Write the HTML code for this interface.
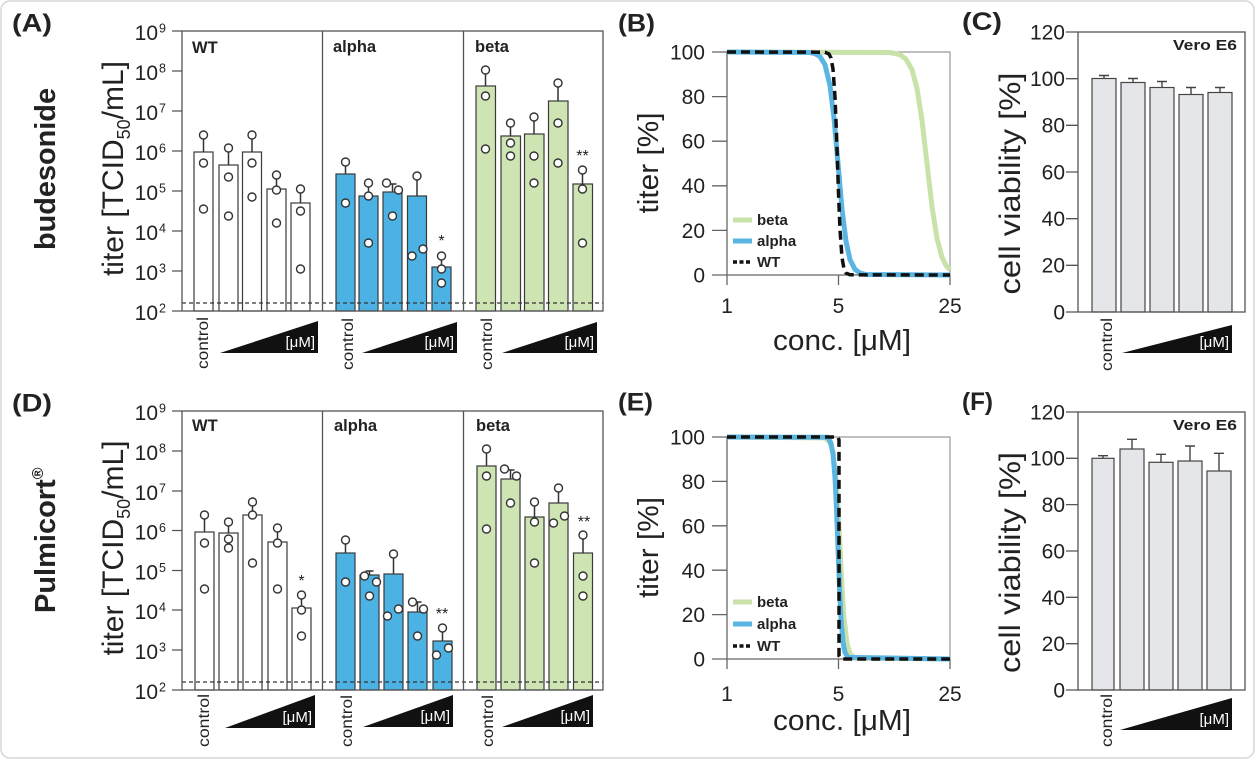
<!DOCTYPE html>
<html><head><meta charset="utf-8">
<style>
html,body{margin:0;padding:0;background:#fff;}
svg{display:block;}
text{font-family:"Liberation Sans",Arial,sans-serif;fill:#222;}
.b{font-weight:bold;}
</style></head><body>
<svg width="1256" height="760" viewBox="0 0 1256 760" xmlns="http://www.w3.org/2000/svg">
<rect x="1" y="1" width="1253" height="757" rx="9" fill="#fff" stroke="#d6d6d6" stroke-width="1.5"/>

<!-- ===== Panel labels ===== -->
<text class="b" x="12" y="31.5" font-size="25" textLength="40" lengthAdjust="spacingAndGlyphs">(A)</text>
<text class="b" x="618" y="31.5" font-size="25" textLength="37" lengthAdjust="spacingAndGlyphs">(B)</text>
<text class="b" x="962" y="30" font-size="25" textLength="40" lengthAdjust="spacingAndGlyphs">(C)</text>
<text class="b" x="12" y="411.5" font-size="25" textLength="40" lengthAdjust="spacingAndGlyphs">(D)</text>
<text class="b" x="618" y="410.5" font-size="25" textLength="35" lengthAdjust="spacingAndGlyphs">(E)</text>
<text class="b" x="962" y="410" font-size="25" textLength="31" lengthAdjust="spacingAndGlyphs">(F)</text>

<!-- Row labels -->
<text class="b" transform="translate(55,250) rotate(-90)" font-size="29" textLength="162" lengthAdjust="spacingAndGlyphs">budesonide</text>
<text class="b" transform="translate(55,613) rotate(-90)" font-size="29">Pulmicort<tspan font-size="16" dy="-12">®</tspan></text>

<!-- ===================== PANEL A ===================== -->
<text transform="translate(123,168.5) rotate(-90)" font-size="30" text-anchor="middle">titer [TCID<tspan font-size="18" dy="7">50</tspan><tspan dy="-7">/mL]</tspan></text>
<g font-size="21" text-anchor="end">
<text x="158" y="40">10</text><text x="158" y="80">10</text><text x="158" y="120">10</text><text x="158" y="160">10</text>
<text x="158" y="200">10</text><text x="158" y="240">10</text><text x="158" y="280">10</text><text x="158" y="320">10</text>
</g>
<g font-size="12.5">
<text x="159" y="32.5">9</text><text x="159" y="72.5">8</text><text x="159" y="112.5">7</text><text x="159" y="152.5">6</text>
<text x="159" y="192.5">5</text><text x="159" y="232.5">4</text><text x="159" y="272.5">3</text><text x="159" y="312.5">2</text>
</g>

<!-- bars A -->
<g stroke="#3a3a3a" stroke-width="1.2">
<g fill="#fff">
<rect x="194" y="152" width="19" height="159"/><rect x="219" y="165" width="19" height="146"/>
<rect x="242.5" y="152" width="19" height="159"/><rect x="267" y="189" width="19" height="122"/>
<rect x="291" y="203" width="19" height="108"/>
</g>
<g fill="#4cb2e4">
<rect x="336" y="174" width="19" height="137"/><rect x="359" y="196" width="19" height="115"/>
<rect x="383" y="192" width="19" height="119"/><rect x="407.5" y="196" width="19" height="115"/>
<rect x="432" y="267" width="19" height="44"/>
</g>
<g fill="#cfe4b3">
<rect x="476" y="86" width="19.5" height="225"/><rect x="501" y="136" width="19.5" height="175"/>
<rect x="524.5" y="134" width="19.5" height="177"/><rect x="548.5" y="101" width="19.5" height="210"/>
<rect x="573" y="184" width="19.5" height="127"/>
</g>
</g>
<!-- error bars A -->
<path fill="none" stroke="#333" stroke-width="1.5" d="
M203.5,152V135M199.5,135H207.5
M228.5,165V148M224.5,148H232.5
M252,152V135M248,135H256
M276.5,189V175M272.5,175H280.5
M300.5,203V189M296.5,189H304.5
M345.5,174V162M341.5,162H349.5
M368.5,196V183M364.5,183H372.5
M392.5,192V184M388.5,184H396.5
M417,196V176M413,176H421
M441.5,267V256M437.5,256H445.5
M485.5,86V70M481.5,70H489.5
M510.5,136V123M506.5,123H514.5
M534,134V117M530,117H538
M558,101V83M554,83H562
M582.5,184V170M578.5,170H586.5"/>
<g fill="#fff" stroke="#333" stroke-width="1.4">
<circle cx="203.5" cy="135" r="4"/><circle cx="203.5" cy="163" r="4"/><circle cx="203.5" cy="209" r="4"/>
<circle cx="228.5" cy="148" r="4"/><circle cx="228.5" cy="177" r="4"/><circle cx="228.5" cy="216" r="4"/>
<circle cx="252" cy="135" r="4"/><circle cx="252" cy="163" r="4"/><circle cx="252" cy="197" r="4"/>
<circle cx="276.5" cy="175" r="4"/><circle cx="276.5" cy="190" r="4"/><circle cx="276.5" cy="223" r="4"/>
<circle cx="300.5" cy="189" r="4"/><circle cx="300.5" cy="211" r="4"/><circle cx="300.5" cy="269" r="4"/>
<circle cx="345.5" cy="162" r="4"/><circle cx="345.5" cy="203" r="4"/>
<circle cx="368.5" cy="183" r="4"/><circle cx="368.5" cy="196" r="4"/><circle cx="368.5" cy="243" r="4"/>
<circle cx="386.5" cy="183" r="4"/><circle cx="398.5" cy="190" r="4"/><circle cx="392.5" cy="216" r="4"/>
<circle cx="417" cy="176" r="4"/><circle cx="412" cy="256" r="4"/><circle cx="423" cy="249" r="4"/>
<circle cx="441.5" cy="256" r="4"/><circle cx="441.5" cy="269" r="4"/><circle cx="441.5" cy="283" r="4"/>
<circle cx="485.5" cy="70" r="4"/><circle cx="485.5" cy="96" r="4"/><circle cx="485.5" cy="149" r="4"/>
<circle cx="510.5" cy="123" r="4"/><circle cx="510.5" cy="143" r="4"/><circle cx="510.5" cy="156" r="4"/>
<circle cx="534" cy="117" r="4"/><circle cx="534" cy="156" r="4"/><circle cx="534" cy="183" r="4"/>
<circle cx="558" cy="83" r="4"/><circle cx="558" cy="123" r="4"/><circle cx="558" cy="163" r="4"/>
<circle cx="582.5" cy="170" r="4"/><circle cx="582.5" cy="189" r="4"/><circle cx="582.5" cy="243" r="4"/>
</g>
<line x1="182" y1="303" x2="603" y2="303" stroke="#333" stroke-width="1.2" stroke-dasharray="4,3"/>
<g stroke="#555" stroke-width="1.3" fill="none">
<rect x="182" y="31" width="421" height="280"/>
<line x1="322.5" y1="31" x2="322.5" y2="311"/><line x1="463.5" y1="31" x2="463.5" y2="311"/>
<path d="M172,31H182M172,71H182M172,111H182M172,151H182M172,191H182M172,231H182M172,271H182M172,311H182"/>
</g>
<g class="b" font-size="16.5">
<text x="192" y="53">WT</text><text x="333" y="52">alpha</text><text x="475" y="52">beta</text>
</g>
<g font-size="16" text-anchor="middle">
<text x="441.5" y="246">*</text><text x="582.5" y="161">**</text>
</g>
<!-- x labels A -->
<g font-size="16" text-anchor="end">
<text transform="translate(208,317) rotate(-90)" textLength="52" lengthAdjust="spacingAndGlyphs">control</text>
<text transform="translate(353,318) rotate(-90)" textLength="52" lengthAdjust="spacingAndGlyphs">control</text>
<text transform="translate(492,318) rotate(-90)" textLength="52" lengthAdjust="spacingAndGlyphs">control</text>
</g>
<g fill="#111">
<polygon points="220,353 318,353 318,321"/>
<polygon points="362,353 457,353 457,322"/>
<polygon points="502,353 597,353 597,322"/>
</g>
<g font-size="15" text-anchor="end" style="fill:#fff">
<text x="315" y="347" style="fill:#fff">[μM]</text>
<text x="454" y="347" style="fill:#fff">[μM]</text>
<text x="594" y="347" style="fill:#fff">[μM]</text>
</g>

<!-- ===================== PANEL D ===================== -->
<text transform="translate(123,548) rotate(-90)" font-size="30" text-anchor="middle">titer [TCID<tspan font-size="18" dy="7">50</tspan><tspan dy="-7">/mL]</tspan></text>
<g font-size="21" text-anchor="end">
<text x="158" y="420">10</text><text x="158" y="460">10</text><text x="158" y="500">10</text><text x="158" y="539.5">10</text>
<text x="158" y="579.5">10</text><text x="158" y="619">10</text><text x="158" y="659">10</text><text x="158" y="699">10</text>
</g>
<g font-size="12.5">
<text x="159" y="412.5">9</text><text x="159" y="452.5">8</text><text x="159" y="492.5">7</text><text x="159" y="532">6</text>
<text x="159" y="572">5</text><text x="159" y="611.5">4</text><text x="159" y="651.5">3</text><text x="159" y="691.5">2</text>
</g>
<g stroke="#3a3a3a" stroke-width="1.2">
<g fill="#fff">
<rect x="195" y="532" width="19" height="158"/><rect x="219" y="533" width="19" height="157"/>
<rect x="243" y="515" width="19" height="175"/><rect x="268" y="542" width="19" height="148"/>
<rect x="292" y="608" width="19" height="82"/>
</g>
<g fill="#4cb2e4">
<rect x="336" y="553" width="19" height="137"/><rect x="360" y="575" width="19" height="115"/>
<rect x="384" y="574" width="19" height="116"/><rect x="408" y="612" width="19" height="78"/>
<rect x="433" y="641" width="19" height="49"/>
</g>
<g fill="#cfe4b3">
<rect x="477" y="466" width="19" height="224"/><rect x="501" y="479" width="19" height="211"/>
<rect x="525" y="517" width="19" height="173"/><rect x="549" y="503" width="19" height="187"/>
<rect x="573.5" y="553" width="19" height="137"/>
</g>
</g>
<path fill="none" stroke="#333" stroke-width="1.5" d="
M204.5,532V515M200.5,515H208.5
M228.5,533V520M224.5,520H232.5
M252.5,515V502M248.5,502H256.5
M277.5,542V528M273.5,528H281.5
M301.5,608V595M297.5,595H305.5
M345.5,553V540M341.5,540H349.5
M369.5,575V571M365.5,571H373.5
M393.5,574V554M389.5,554H397.5
M417.5,612V602M413.5,602H421.5
M442.5,641V628M438.5,628H446.5
M486.5,466V449M482.5,449H490.5
M510.5,479V470M506.5,470H514.5
M534.5,517V502M530.5,502H538.5
M558.5,503V488M554.5,488H562.5
M583,553V535M579,535H587"/>
<g fill="#fff" stroke="#333" stroke-width="1.4">
<circle cx="204.5" cy="515" r="4"/><circle cx="204.5" cy="543" r="4"/><circle cx="204.5" cy="589" r="4"/>
<circle cx="228.5" cy="522" r="4"/><circle cx="228.5" cy="539" r="4"/><circle cx="228.5" cy="548" r="4"/>
<circle cx="252.5" cy="502" r="4"/><circle cx="252.5" cy="515" r="4"/><circle cx="252.5" cy="563" r="4"/>
<circle cx="277.5" cy="528" r="4"/><circle cx="277.5" cy="543" r="4"/><circle cx="277.5" cy="589" r="4"/>
<circle cx="301.5" cy="595" r="4"/><circle cx="301.5" cy="610" r="4"/><circle cx="301.5" cy="636" r="4"/>
<circle cx="345.5" cy="540" r="4"/><circle cx="345.5" cy="582" r="4"/>
<circle cx="364.5" cy="576" r="4"/><circle cx="376.5" cy="582" r="4"/><circle cx="369.5" cy="596" r="4"/>
<circle cx="393.5" cy="554" r="4"/><circle cx="387.5" cy="616" r="4"/><circle cx="398.5" cy="609" r="4"/>
<circle cx="412.5" cy="602" r="4"/><circle cx="423.5" cy="609" r="4"/><circle cx="417.5" cy="636" r="4"/>
<circle cx="442.5" cy="628" r="4"/><circle cx="448.5" cy="648" r="4"/><circle cx="436.5" cy="655" r="4"/>
<circle cx="486.5" cy="449" r="4"/><circle cx="486.5" cy="476" r="4"/><circle cx="486.5" cy="529" r="4"/>
<circle cx="504.5" cy="469" r="4"/><circle cx="516.5" cy="476" r="4"/><circle cx="510.5" cy="503" r="4"/>
<circle cx="534.5" cy="502" r="4"/><circle cx="534.5" cy="522" r="4"/><circle cx="534.5" cy="563" r="4"/>
<circle cx="558.5" cy="488" r="4"/><circle cx="553.5" cy="523" r="4"/><circle cx="564.5" cy="516" r="4"/>
<circle cx="583" cy="535" r="4"/><circle cx="583" cy="576" r="4"/><circle cx="583" cy="596" r="4"/>
</g>
<line x1="182" y1="682" x2="603" y2="682" stroke="#333" stroke-width="1.2" stroke-dasharray="4,3"/>
<g stroke="#555" stroke-width="1.3" fill="none">
<rect x="182" y="411" width="421" height="279"/>
<line x1="322.5" y1="411" x2="322.5" y2="690"/><line x1="463.5" y1="411" x2="463.5" y2="690"/>
<path d="M172,411H182M172,451H182M172,491H182M172,530.5H182M172,570.5H182M172,610H182M172,650H182M172,690H182"/>
</g>
<g class="b" font-size="16.5">
<text x="192" y="431">WT</text><text x="334" y="431">alpha</text><text x="476" y="431">beta</text>
</g>
<g font-size="16" text-anchor="middle">
<text x="301.5" y="586">*</text><text x="442" y="619">**</text><text x="584" y="527">**</text>
</g>
<g font-size="16" text-anchor="end">
<text transform="translate(209,694) rotate(-90)" textLength="53" lengthAdjust="spacingAndGlyphs">control</text>
<text transform="translate(352,695) rotate(-90)" textLength="52" lengthAdjust="spacingAndGlyphs">control</text>
<text transform="translate(493,695) rotate(-90)" textLength="52" lengthAdjust="spacingAndGlyphs">control</text>
</g>
<g fill="#111">
<polygon points="225,728 315,728 315,695"/>
<polygon points="363,727 453,727 453,695"/>
<polygon points="502,727 593,727 593,695"/>
</g>
<g font-size="15" text-anchor="end">
<text x="312" y="722" style="fill:#fff">[μM]</text>
<text x="450" y="721" style="fill:#fff">[μM]</text>
<text x="590" y="721" style="fill:#fff">[μM]</text>
</g>

<!-- ===================== PANEL B ===================== -->
<text transform="translate(658,163) rotate(-90)" font-size="29" text-anchor="middle" textLength="101" lengthAdjust="spacingAndGlyphs">titer [%]</text>
<g font-size="21" text-anchor="end">
<text x="705" y="59.5">100</text><text x="705" y="104">80</text><text x="705" y="148.5">60</text>
<text x="705" y="193">40</text><text x="705" y="238">20</text><text x="705" y="282.5">0</text>
</g>
<g font-size="21" text-anchor="middle">
<text x="727" y="313">1</text><text x="838.5" y="313">5</text><text x="950" y="313">25</text>
</g>
<text x="842" y="350" font-size="29" text-anchor="middle" textLength="138" lengthAdjust="spacingAndGlyphs">conc. [μM]</text>
<g fill="none" stroke-linejoin="round">
<path stroke="#999" stroke-width="1.2" d="M727,52H950V275"/>
<path stroke="#666" stroke-width="1.3" d="M727,52V285M712,275H950M712,52H727M712,96.6H727M712,141.2H727M712,185.8H727M712,230.4H727M838.5,275V285M950,275V285"/>
<path stroke="#c9e2a9" stroke-width="5" d="M727,52 L890,52.5 L900,54.7 L906,59.1 L912,69.6 L917,88.6 L922,120.5 L927,163.5 L932,206.5 L937,238.4 L942,257.4 L946,265.4 L950,269.9"/>
<path stroke="#5bb5e3" stroke-width="5" d="M727,52 L810,52.5 L815,53.6 L820,56.5 L825,64.7 L830,85.7 L834,118 L838,163.5 L842,209 L846,241.3 L850,259.6 L855,269.4 L860,273.1 L866,274.5 L950,275"/>
<path stroke="#111" stroke-width="3.5" stroke-dasharray="9,5" d="M727,52 L825,52.2 L829,54 L831,58 L833,69 L835,97 L836.5,133.6 L837.5,163.5 L838.5,193.4 L840,230 L842,257.6 L844,269 L846,272.9 L850,274.8 L950,275"/>
<line x1="733" y1="220" x2="752" y2="220" stroke="#c9e2a9" stroke-width="5"/>
<line x1="733" y1="241" x2="752" y2="241" stroke="#5bb5e3" stroke-width="5"/>
<line x1="733" y1="262" x2="752" y2="262" stroke="#111" stroke-width="3.5" stroke-dasharray="4,2.5"/>
</g>
<g class="b" font-size="15">
<text x="757" y="225">beta</text><text x="757" y="246">alpha</text><text x="757" y="267">WT</text>
</g>

<!-- ===================== PANEL E ===================== -->
<text transform="translate(658,547.5) rotate(-90)" font-size="29" text-anchor="middle" textLength="101" lengthAdjust="spacingAndGlyphs">titer [%]</text>
<g font-size="21" text-anchor="end">
<text x="705" y="444.5">100</text><text x="705" y="489">80</text><text x="705" y="533.5">60</text>
<text x="705" y="578">40</text><text x="705" y="622">20</text><text x="705" y="666.5">0</text>
</g>
<g font-size="21" text-anchor="middle">
<text x="727" y="701">1</text><text x="838.5" y="701">5</text><text x="950" y="701">25</text>
</g>
<text x="842" y="730" font-size="29" text-anchor="middle" textLength="138" lengthAdjust="spacingAndGlyphs">conc. [μM]</text>
<g fill="none" stroke-linejoin="round">
<path stroke="#999" stroke-width="1.2" d="M727,437H950V659"/>
<path stroke="#666" stroke-width="1.3" d="M727,437V669M712,659H950M712,437H727M712,481.4H727M712,525.8H727M712,570.2H727M712,614.6H727M838.5,659V669M950,659V669"/>
<path stroke="#c9e2a9" stroke-width="5" d="M727,437 L825,437.9 L830,442.3 L833,452.5 L836,478.1 L838,508.7 L840,548 L842,587.3 L844,617.9 L847,643.5 L850,653.7 L855,658.1 L950,659"/>
<path stroke="#5bb5e3" stroke-width="5" d="M727,437 L828,437.3 L831,443.4 L833,453.9 L835,477.4 L836.5,508.3 L838,548 L839.5,587.7 L841,618.6 L843,642.1 L845,652.6 L848,657.4 L950,659"/>
<path stroke="#111" stroke-width="3.5" stroke-dasharray="9,5" d="M727,437 L838,437 L839,440 L839,656 L841,659 L950,659"/>
<line x1="733" y1="602" x2="752" y2="602" stroke="#c9e2a9" stroke-width="5"/>
<line x1="733" y1="624" x2="752" y2="624" stroke="#5bb5e3" stroke-width="5"/>
<line x1="733" y1="646" x2="752" y2="646" stroke="#111" stroke-width="3.5" stroke-dasharray="4,2.5"/>
</g>
<g class="b" font-size="15">
<text x="757" y="607">beta</text><text x="757" y="629">alpha</text><text x="757" y="651">WT</text>
</g>

<!-- ===================== PANEL C ===================== -->
<text transform="translate(1020,183.5) rotate(-90)" font-size="30" text-anchor="middle" textLength="222" lengthAdjust="spacingAndGlyphs">cell viability [%]</text>
<g font-size="21" text-anchor="end">
<text x="1065" y="39.5">120</text><text x="1065" y="86">100</text><text x="1065" y="132.5">80</text>
<text x="1065" y="179.5">60</text><text x="1065" y="226">40</text><text x="1065" y="272.5">20</text><text x="1065" y="319.5">0</text>
</g>
<g fill="#e4e6e9" stroke="#444" stroke-width="1.2">
<rect x="1092" y="78.5" width="24" height="233.5"/>
<rect x="1121" y="82.5" width="24" height="229.5"/>
<rect x="1150" y="87.5" width="24" height="224.5"/>
<rect x="1179" y="94.5" width="24" height="217.5"/>
<rect x="1208" y="92.5" width="24" height="219.5"/>
</g>
<path fill="none" stroke="#444" stroke-width="1.4" d="
M1104,78.5V75.5M1099,75.5H1109
M1133,82.5V78.5M1128,78.5H1138
M1162,87.5V81.5M1157,81.5H1167
M1191,94.5V87.5M1186,87.5H1196
M1220,92.5V87.5M1215,87.5H1225"/>
<g stroke="#555" stroke-width="1.3" fill="none">
<rect x="1078" y="32" width="167" height="280"/>
<path d="M1066,32H1078M1066,78.7H1078M1066,125.3H1078M1066,172H1078M1066,218.7H1078M1066,265.3H1078M1066,312H1078"/>
</g>
<text class="b" x="1237" y="50" font-size="15" text-anchor="end" textLength="64" lengthAdjust="spacingAndGlyphs">Vero E6</text>
<text transform="translate(1112,318) rotate(-90)" font-size="16" text-anchor="end" textLength="53" lengthAdjust="spacingAndGlyphs">control</text>
<polygon points="1122,353 1232,353 1232,325" fill="#111"/>
<text x="1229" y="347" font-size="15" text-anchor="end" style="fill:#fff">[μM]</text>

<!-- ===================== PANEL F ===================== -->
<text transform="translate(1020,562.5) rotate(-90)" font-size="30" text-anchor="middle" textLength="221" lengthAdjust="spacingAndGlyphs">cell viability [%]</text>
<g font-size="21" text-anchor="end">
<text x="1065" y="419.5">120</text><text x="1065" y="465.5">100</text><text x="1065" y="512">80</text>
<text x="1065" y="558.5">60</text><text x="1065" y="605">40</text><text x="1065" y="651">20</text><text x="1065" y="697.5">0</text>
</g>
<g fill="#e4e6e9" stroke="#444" stroke-width="1.2">
<rect x="1092" y="458.3" width="22" height="231.7"/>
<rect x="1120" y="449" width="24" height="241"/>
<rect x="1149" y="462.3" width="24" height="227.7"/>
<rect x="1178" y="461" width="24" height="229"/>
<rect x="1207" y="471" width="24" height="219"/>
</g>
<path fill="none" stroke="#444" stroke-width="1.4" d="
M1103,458.3V455.7M1098,455.7H1108
M1132,449V439.3M1127,439.3H1137
M1161,462.3V454.3M1156,454.3H1166
M1190,461V446M1185,446H1195
M1219,471V453.3M1214,453.3H1224"/>
<g stroke="#555" stroke-width="1.3" fill="none">
<rect x="1078" y="412" width="167" height="278"/>
<path d="M1066,412H1078M1066,458.3H1078M1066,504.6H1078M1066,551H1078M1066,597.3H1078M1066,643.7H1078M1066,690H1078"/>
</g>
<text class="b" x="1237" y="430" font-size="15" text-anchor="end" textLength="64" lengthAdjust="spacingAndGlyphs">Vero E6</text>
<text transform="translate(1112,694) rotate(-90)" font-size="16" text-anchor="end" textLength="53" lengthAdjust="spacingAndGlyphs">control</text>
<polygon points="1120,730 1232,730 1232,698" fill="#111"/>
<text x="1229" y="724" font-size="15" text-anchor="end" style="fill:#fff">[μM]</text>
</svg>
</body></html>
